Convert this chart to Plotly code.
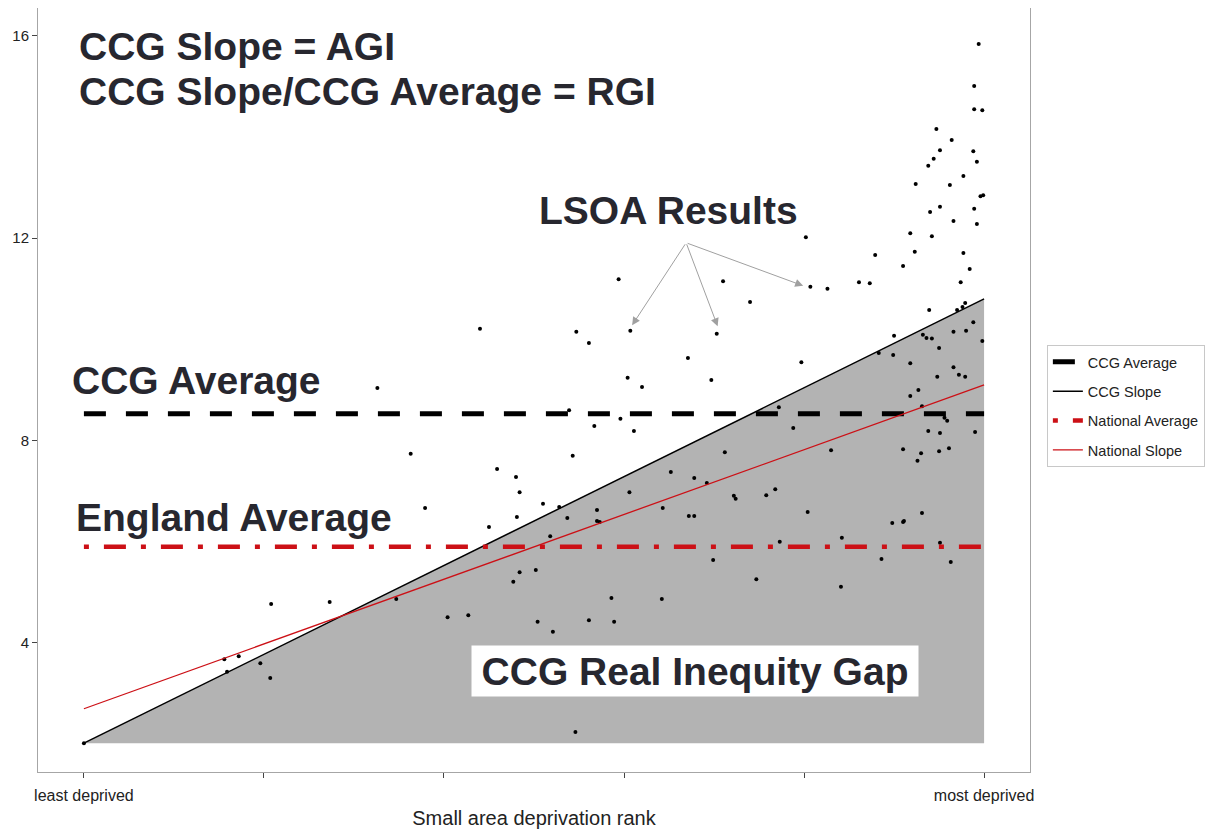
import plotly.graph_objects as go

# LSOA results: deprivation rank (0 = least, 1 = most deprived) and value
lsoa_rank = [
    0.000, 0.156, 0.172, 0.159, 0.196, 0.208, 0.207, 0.273, 0.347, 0.326,
    0.363, 0.379, 0.404, 0.427, 0.450, 0.459, 0.480, 0.484, 0.481, 0.477,
    0.484, 0.502, 0.510, 0.518, 0.504, 0.521, 0.440, 0.539, 0.547, 0.561,
    0.594, 0.607, 0.604, 0.620, 0.567, 0.596, 0.611, 0.543, 0.528, 0.537,
    0.570, 0.570, 0.573, 0.586, 0.561, 0.589, 0.546, 0.606, 0.643, 0.652,
    0.678, 0.692, 0.672, 0.678, 0.671, 0.697, 0.703, 0.710, 0.740, 0.712,
    0.722, 0.724, 0.758, 0.768, 0.772, 0.788, 0.699, 0.642, 0.747, 0.773,
    0.797, 0.807, 0.826, 0.802, 0.804, 0.830, 0.842, 0.841, 0.861, 0.873,
    0.879, 0.883, 0.899, 0.900, 0.886, 0.898, 0.910, 0.911, 0.910, 0.910,
    0.918, 0.918, 0.918, 0.923, 0.924, 0.926, 0.927, 0.930, 0.931, 0.931,
    0.932, 0.936, 0.938, 0.938, 0.939, 0.940, 0.942, 0.942, 0.944, 0.947,
    0.948, 0.950, 0.950, 0.951, 0.951, 0.951, 0.951, 0.956, 0.959, 0.961,
    0.962, 0.963, 0.964, 0.966, 0.966, 0.966, 0.970, 0.972, 0.974, 0.976,
    0.977, 0.977, 0.979, 0.979, 0.980, 0.984, 0.988, 0.988, 0.989, 0.989,
    0.989, 0.990, 0.992, 0.992, 0.994, 0.996, 0.998, 0.998, 0.999,
]
lsoa_value = [
    2.02, 3.68, 3.74, 3.43, 3.60, 4.77, 3.31, 4.81, 4.87, 9.04,
    7.74, 6.67, 4.51, 4.55, 6.29, 7.44, 7.28, 6.98, 6.49, 5.21,
    5.40, 5.44, 6.75, 6.11, 4.42, 4.22, 10.21, 8.60, 10.15, 9.93,
    11.19, 10.17, 9.24, 9.06, 8.29, 8.43, 8.19, 7.70, 6.69, 6.47,
    6.63, 6.41, 6.39, 4.89, 4.45, 4.42, 2.24, 6.98, 6.67, 7.38,
    7.26, 7.16, 6.51, 6.51, 9.63, 9.20, 10.11, 11.15, 10.74, 7.77,
    6.91, 6.85, 6.92, 7.04, 8.66, 8.25, 5.64, 4.87, 5.26, 6.00,
    9.55, 11.04, 11.00, 12.02, 6.59, 7.81, 6.08, 5.11, 11.13, 11.11,
    11.67, 9.73, 9.69, 10.07, 5.66, 6.37, 6.39, 6.41, 7.83, 11.45,
    9.53, 8.88, 12.10, 11.73, 13.07, 7.60, 9.00, 7.75, 8.68, 6.57,
    10.09, 10.03, 13.43, 8.19, 10.58, 12.52, 12.04, 10.02, 13.57, 14.16,
    9.26, 9.83, 7.79, 13.74, 12.62, 8.15, 5.98, 8.45, 8.39, 7.85,
    13.05, 5.60, 13.94, 12.34, 10.15, 9.45, 10.58, 9.30, 11.13, 10.64,
    13.23, 11.71, 10.72, 9.26, 10.17, 11.39, 10.34, 13.72, 15.01, 14.55,
    12.58, 8.17, 13.51, 12.28, 15.84, 12.83, 14.53, 9.97, 12.85,
]

rank_ends = [0, 1]
ccg_slope = [2.02, 10.80]
national_slope = [2.70, 9.10]
ccg_average = 8.53
national_average = 5.90

tick_vals = [0, 0.2, 0.4, 0.6, 0.8, 1]
tick_text = ['least deprived', '', '', '', '', 'most deprived']

FONT = 'Liberation Sans, Arial, sans-serif'
DARK = '#27272f'
RED = '#cc1016'

fig = go.Figure()

# grey triangle under the CCG slope = real inequity gap
fig.add_trace(go.Scatter(
    x=[rank_ends[0], rank_ends[1], rank_ends[1], rank_ends[0]],
    y=[ccg_slope[0], ccg_slope[1], ccg_slope[0], ccg_slope[0]],
    fill='toself', fillcolor='#b3b3b3', line=dict(width=0),
    mode='lines', hoverinfo='skip', showlegend=False))

fig.add_trace(go.Scatter(
    x=lsoa_rank, y=lsoa_value, mode='markers',
    marker=dict(color='black', size=4), showlegend=False))

fig.add_trace(go.Scatter(
    x=rank_ends, y=[ccg_average, ccg_average], mode='lines', name='CCG Average',
    line=dict(color='black', width=5, dash='22px,20px'), legendgroup='a'))
fig.add_trace(go.Scatter(
    x=rank_ends, y=ccg_slope, mode='lines', name='CCG Slope',
    line=dict(color='black', width=1.5), legendgroup='b'))
fig.add_trace(go.Scatter(
    x=rank_ends, y=[national_average, national_average], mode='lines', name='National Average',
    line=dict(color=RED, width=4.5, dash='5px,15px,22px,15px'), legendgroup='c'))
fig.add_trace(go.Scatter(
    x=rank_ends, y=national_slope, mode='lines', name='National Slope',
    line=dict(color=RED, width=1.3), legendgroup='d'))

big = dict(family=FONT, size=39, color=DARK, weight='bold')
labels = [
    ('CCG Slope = AGI', -0.008, 15.78),
    ('CCG Slope/CCG Average = RGI', -0.008, 14.89),
    ('LSOA Results', 0.503, 12.54),
    ('CCG Average', -0.015, 9.18),
    ('England Average', -0.011, 6.48),
]
for txt, lx, ly in labels:
    fig.add_annotation(x=lx, y=ly, text=txt, showarrow=False,
                       xanchor='left', yanchor='middle', font=big)

fig.add_annotation(x=0.679, y=3.45, text='CCG Real Inequity Gap', showarrow=False,
                   font=big, bgcolor='white', width=444, height=48)

# arrows from "LSOA Results" to some points
for tx, ty in [(0.609, 10.28), (0.704, 10.26), (0.799, 11.06)]:
    fig.add_annotation(x=tx, y=ty, ax=0.669, ay=11.91, axref='x', ayref='y',
                       xref='x', yref='y', text='', showarrow=True,
                       arrowhead=2, arrowsize=1.6, arrowwidth=1, arrowcolor='#a0a0a0')

# page body adds an 8px offset, so the figure is 8px smaller on each side
fig.update_layout(
    width=1209, height=821,
    margin=dict(l=30, r=187, t=0, b=57, autoexpand=False),
    paper_bgcolor='white', plot_bgcolor='white',
    font=dict(family=FONT, size=15, color='#222222'),
    legend=dict(x=1.017, y=0.559, xanchor='left', yanchor='top',
                bordercolor='#c8c8c8', borderwidth=1, tracegroupgap=7.5,
                font=dict(size=14.5, color='#222222')),
    xaxis=dict(range=[-0.051, 1.051], tickvals=tick_vals, ticktext=tick_text,
               showgrid=False, zeroline=False, showline=True, mirror=True,
               linecolor='#a6a6a6', ticks='outside', ticklen=5, tickcolor='#444444',
               tickfont=dict(size=16, color='#222222'), automargin=False,
               ticklabelstandoff=4,
               title=dict(text='Small area deprivation rank', font=dict(size=20), standoff=10)),
    yaxis=dict(range=[1.45, 16.55], tickvals=[4, 8, 12, 16],
               showgrid=False, zeroline=False, showline=True, mirror=True,
               linecolor='#a6a6a6', ticks='outside', ticklen=5, tickcolor='#444444',
               tickfont=dict(size=15, color='#222222'), automargin=False),
)

fig.write_html('out.html')
